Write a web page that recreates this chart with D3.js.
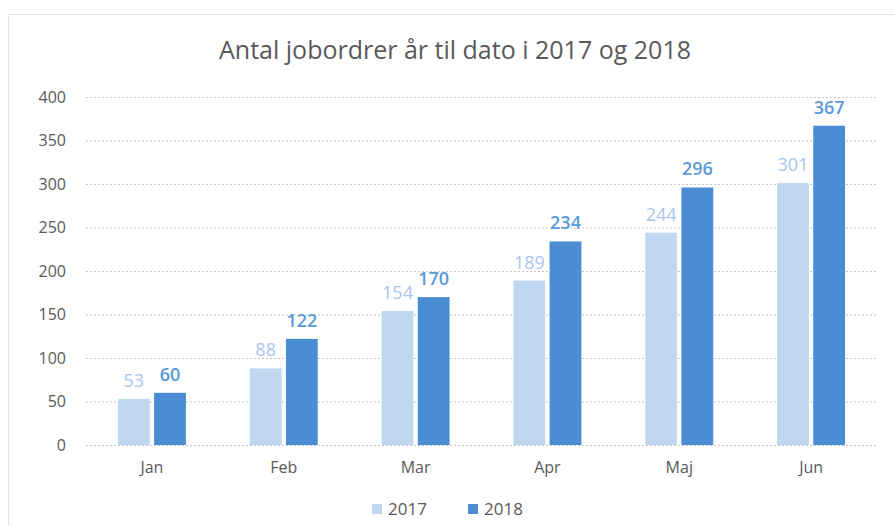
<!DOCTYPE html>
<html>
<head>
<meta charset="utf-8">
<script src="https://cdn.jsdelivr.net/npm/d3@7"></script>
<style>
  body { margin: 0; background: #fff; }
  svg text { font-family: "Open Sans", sans-serif; }
</style>
</head>
<body>
<svg id="chart" width="895" height="526"></svg>
<script>
var months = ["Jan", "Feb", "Mar", "Apr", "Maj", "Jun"];
var series = ["2017", "2018"];
var values2017 = [53, 88, 154, 189, 244, 301];
var values2018 = [60, 122, 170, 234, 296, 367];
var yTicks = [0, 50, 100, 150, 200, 250, 300, 350, 400];

var colors = {"2017": "#c0d7f0", "2018": "#4a8dd3"};
var labelColors = {"2017": "#a8c6ec", "2018": "#5a9ad8"};

var svg = d3.select("#chart");

// outer chart frame (dotted)
svg.append("rect")
    .attr("x", 8.5).attr("y", 14.5)
    .attr("width", 900).attr("height", 520)
    .attr("fill", "none")
    .attr("stroke", "#c8c8c8")
    .attr("stroke-dasharray", "1,1");

var x0 = d3.scaleBand().domain(months).range([86, 877]);
var x1 = d3.scaleBand().domain(series).range([0, 68]).paddingInner(0.12);
var y = d3.scaleLinear().domain([0, 400]).range([445, 97]);

// title
svg.append("text")
    .attr("x", 455).attr("y", 59)
    .attr("text-anchor", "middle")
    .attr("font-size", 25)
    .attr("fill", "#595959")
    .text("Antal jobordrer år til dato i 2017 og 2018");

// gridlines
svg.append("g").selectAll("line")
    .data(yTicks)
    .join("line")
    .attr("x1", 86).attr("x2", 877)
    .attr("y1", d => y(d) + 0.5).attr("y2", d => y(d) + 0.5)
    .attr("stroke", "#c4c4c4")
    .attr("stroke-dasharray", "2,2");

// y axis labels
var yAxis = d3.axisLeft(y).tickValues(yTicks).tickSize(0).tickPadding(0);
var gy = svg.append("g").attr("transform", "translate(66,0)").call(yAxis);
gy.select(".domain").remove();
gy.selectAll("text")
    .attr("font-size", 16)
    .attr("fill", "#595959")
    .style("font-family", "'Open Sans', sans-serif");

// x axis labels
var xAxis = d3.axisBottom(x0).tickSize(0).tickPadding(0);
var gx = svg.append("g").attr("transform", "translate(0,462)").call(xAxis);
gx.select(".domain").remove();
gx.selectAll("text")
    .attr("font-size", 16)
    .attr("fill", "#595959")
    .style("font-family", "'Open Sans', sans-serif");

// bars
var rows = months.map(function(m, i) {
    return {month: m, vals: [{s: "2017", v: values2017[i]}, {s: "2018", v: values2018[i]}]};
});

var groups = svg.append("g").selectAll("g")
    .data(rows)
    .join("g")
    .attr("transform", d => "translate(" + (x0(d.month) + (x0.bandwidth() - 68) / 2) + ",0)");

groups.selectAll("rect")
    .data(d => d.vals)
    .join("rect")
    .attr("x", d => x1(d.s))
    .attr("y", d => y(d.v))
    .attr("width", x1.bandwidth())
    .attr("height", d => y(0) - y(d.v))
    .attr("fill", d => colors[d.s]);

groups.selectAll("text")
    .data(d => d.vals)
    .join("text")
    .attr("x", d => x1(d.s) + x1.bandwidth() / 2)
    .attr("y", d => y(d.v) - 12)
    .attr("text-anchor", "middle")
    .attr("font-size", 18)
    .attr("font-weight", d => d.s === "2018" ? 600 : "normal")
    .attr("fill", d => labelColors[d.s])
    .text(d => d.v);

// legend
var legendX = {"2017": 372, "2018": 468};
var legend = svg.append("g").selectAll("g")
    .data(series)
    .join("g")
    .attr("transform", d => "translate(" + legendX[d] + ",504)");
legend.append("rect")
    .attr("width", 10).attr("height", 10)
    .attr("fill", d => colors[d]);
legend.append("text")
    .attr("x", 16).attr("y", 11)
    .attr("font-size", 17)
    .attr("fill", "#595959")
    .text(d => d);
</script>
</body>
</html>
